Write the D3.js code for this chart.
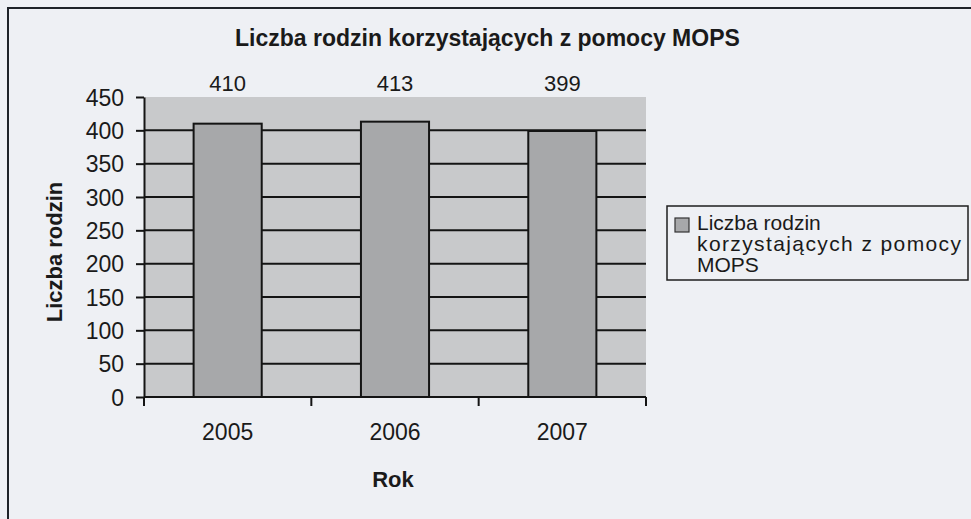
<!DOCTYPE html>
<html>
<head>
<meta charset="utf-8">
<script src="https://cdn.jsdelivr.net/npm/d3@7"></script>
<style>
  html, body { margin: 0; padding: 0; background: #eef0f4; }
  svg { display: block; }
  text { font-family: "Liberation Sans", Arial, sans-serif; fill: #1a1a1a; }
</style>
</head>
<body>
<script>
const title = "Liczba rodzin korzystających z pomocy MOPS";
const years = ["2005", "2006", "2007"];
const values = [410, 413, 399];
const yTicks = [0, 50, 100, 150, 200, 250, 300, 350, 400, 450];
const yTitle = "Liczba rodzin";
const xTitle = "Rok";
const legendLines = ["Liczba rodzin", "korzystających z pomocy", "MOPS"];

const W = 971, H = 519;
const svg = d3.select("body").append("svg").attr("width", W).attr("height", H);

svg.append("rect").attr("width", W).attr("height", H).attr("fill", "#eef0f4");

// outer frame (extends beyond the picture at right/bottom)
svg.append("rect").attr("x", 8).attr("y", 8).attr("width", 1000).attr("height", 600)
  .attr("fill", "none").attr("stroke", "#1e2228").attr("stroke-width", 2);

const plot = { left: 144, right: 646, top: 97, bottom: 397 };

const y = d3.scaleLinear().domain([0, 450]).range([plot.bottom, plot.top]);
const xBand = d3.scaleBand().domain(years).range([plot.left, plot.right])
  .paddingInner(0.593).paddingOuter(0.2965);
const xCat = d3.scaleBand().domain(years).range([plot.left, plot.right]).padding(0);

// plot background
svg.append("rect").attr("x", plot.left).attr("y", plot.top)
  .attr("width", plot.right - plot.left).attr("height", plot.bottom - plot.top)
  .attr("fill", "#c8c9cb");

// gridlines
svg.append("g").selectAll("line").data(yTicks.filter(t => t > 0 && t < 450)).join("line")
  .attr("x1", plot.left).attr("x2", plot.right)
  .attr("y1", d => y(d)).attr("y2", d => y(d))
  .attr("stroke", "#141414").attr("stroke-width", 2);

// bars
svg.append("g").selectAll("rect").data(values).join("rect")
  .attr("x", (d, i) => xBand(years[i]))
  .attr("y", d => y(d))
  .attr("width", xBand.bandwidth())
  .attr("height", d => y(0) - y(d))
  .attr("fill", "#a7a8aa").attr("stroke", "#141414").attr("stroke-width", 2);

// value labels
svg.append("g").selectAll("text").data(values).join("text")
  .attr("x", (d, i) => xBand(years[i]) + xBand.bandwidth() / 2)
  .attr("y", 91)
  .attr("text-anchor", "middle")
  .style("font-size", "22px")
  .text(d => d);

// y axis
const yAxis = svg.append("g").attr("transform", `translate(${plot.left},0)`)
  .call(d3.axisLeft(y).tickValues(yTicks).tickSize(8).tickPadding(12).tickSizeOuter(0));
yAxis.select(".domain").attr("stroke", "#141414").attr("stroke-width", 2);
yAxis.selectAll(".tick line").attr("stroke", "#141414").attr("stroke-width", 2);
yAxis.selectAll(".tick text").style("font-size", "23px").style("font-family", "Liberation Sans, Arial, sans-serif").attr("fill", "#1a1a1a").attr("dy", "0.36em");

// x axis
const xAxisG = svg.append("g").attr("transform", `translate(0,${plot.bottom})`);
xAxisG.append("line").attr("x1", plot.left).attr("x2", plot.right)
  .attr("y1", 0).attr("y2", 0).attr("stroke", "#141414").attr("stroke-width", 2);
const boundaries = years.map(d => xCat(d)).concat([xCat(years[years.length - 1]) + xCat.bandwidth()]);
xAxisG.selectAll("line.tk").data(boundaries).join("line").attr("class", "tk")
  .attr("x1", d => d).attr("x2", d => d).attr("y1", 0).attr("y2", 9)
  .attr("stroke", "#141414").attr("stroke-width", 2);
xAxisG.selectAll("text").data(years).join("text")
  .attr("x", d => xBand(d) + xBand.bandwidth() / 2)
  .attr("y", 43)
  .attr("text-anchor", "middle")
  .style("font-size", "23px")
  .text(d => d);

// titles
svg.append("text").attr("x", 235).attr("y", 46)
  .style("font-size", "23px").style("font-weight", "bold")
  .text(title);

svg.append("text").attr("x", 393).attr("y", 487).attr("text-anchor", "middle")
  .style("font-size", "22px").style("font-weight", "bold")
  .text(xTitle);

svg.append("text").attr("transform", "translate(62,252) rotate(-90)")
  .attr("text-anchor", "middle")
  .style("font-size", "22px").style("font-weight", "bold")
  .text(yTitle);

// legend
const lg = svg.append("g");
lg.append("rect").attr("x", 667).attr("y", 206).attr("width", 301).attr("height", 74)
  .attr("fill", "none").attr("stroke", "#1e1e1e").attr("stroke-width", 1.5);
lg.append("rect").attr("x", 675).attr("y", 218).attr("width", 14).attr("height", 14)
  .attr("fill", "#a7a8aa").attr("stroke", "#333").attr("stroke-width", 1.2);
lg.selectAll("text").data(legendLines).join("text")
  .attr("x", 697)
  .attr("y", (d, i) => 230 + i * 21)
  .style("font-size", "21px")
  .each(function (d, i) {
    if (i === 1) d3.select(this).attr("textLength", 264).attr("lengthAdjust", "spacing");
  })
  .text(d => d);
</script>
</body>
</html>
